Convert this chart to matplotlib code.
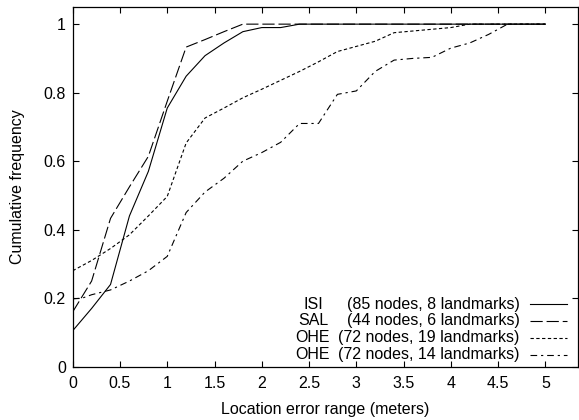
import matplotlib.pyplot as plt
from matplotlib.ticker import FormatStrFormatter

plt.rcParams["font.family"] = ["Liberation Sans", "DejaVu Sans"]
plt.rcParams["font.size"] = 11.5

# location error range (m) and cumulative frequency per deployment
isi_x = [0, 0.2, 0.4, 0.6, 0.8, 1.0, 1.2, 1.4, 1.6, 1.8, 2.0, 2.2, 2.4, 5.0]
isi_y = [0.105, 0.17, 0.24, 0.44, 0.57, 0.755, 0.848, 0.908, 0.945, 0.978, 0.99, 0.99, 1.0, 1.0]

sal_x = [0, 0.2, 0.4, 0.6, 0.8, 1.0, 1.2, 1.4, 1.6, 1.8, 5.0]
sal_y = [0.16, 0.25, 0.433, 0.525, 0.614, 0.775, 0.933, 0.955, 0.978, 1.0, 1.0]

ohe19_x = [0, 0.2, 0.4, 0.6, 0.8, 1.0, 1.2, 1.4, 1.6, 1.8, 2.0, 2.2, 2.4, 2.6, 2.8,
           3.0, 3.2, 3.4, 3.6, 3.8, 4.0, 4.2, 5.0]
ohe19_y = [0.28, 0.31, 0.345, 0.385, 0.44, 0.497, 0.653, 0.726, 0.755, 0.785, 0.81, 0.836,
           0.862, 0.89, 0.92, 0.935, 0.95, 0.975, 0.98, 0.985, 0.99, 1.0, 1.0]

ohe14_x = [0, 0.1, 0.2, 0.4, 0.6, 0.8, 1.0, 1.2, 1.4, 1.6, 1.8, 2.0, 2.2, 2.4, 2.6, 2.8,
           3.0, 3.2, 3.4, 3.6, 3.8, 4.0, 4.2, 4.4, 4.6, 5.0]
ohe14_y = [0.198, 0.2, 0.21, 0.224, 0.25, 0.28, 0.322, 0.45, 0.51, 0.55, 0.60, 0.625,
           0.655, 0.71, 0.71, 0.795, 0.805, 0.862, 0.895, 0.90, 0.903, 0.93, 0.945, 0.97,
           1.0, 1.0]

names = ["ISI", "SAL", "OHE", "OHE"]
details = ["(85 nodes, 8 landmarks)", "(44 nodes, 6 landmarks)",
           "(72 nodes, 19 landmarks)", "(72 nodes, 14 landmarks)"]

x_ticks = [0, 0.5, 1, 1.5, 2, 2.5, 3, 3.5, 4, 4.5, 5]
y_ticks = [0, 0.2, 0.4, 0.6, 0.8, 1]

styles = [
    dict(linestyle="-"),
    dict(dashes=(11, 3.5)),
    dict(dashes=(3, 2.2)),
    dict(dashes=(6, 3.5, 2, 3.5)),
]

fig = plt.figure(figsize=(5.79, 4.20), dpi=100)
ax = fig.add_axes([0.1256, 0.127, 0.8734, 0.8563])

series = [(isi_x, isi_y), (sal_x, sal_y), (ohe19_x, ohe19_y), (ohe14_x, ohe14_y)]
for (xs, ys), st in zip(series, styles):
    ax.plot(xs, ys, color="black", linewidth=0.8, **st)

ax.set_xlim(0, 5.35)
ax.set_ylim(0, 1.05)
ax.set_xticks(x_ticks)
ax.set_yticks(y_ticks)
ax.xaxis.set_major_formatter(FormatStrFormatter("%g"))
ax.yaxis.set_major_formatter(FormatStrFormatter("%g"))
ax.tick_params(direction="in", length=4, width=0.8, top=True, right=True,
               labelsize=11.5, pad=5)
ax.tick_params(axis="x", pad=7)
for sp in ax.spines.values():
    sp.set_linewidth(0.9)

ax.set_xlabel("Location error range (meters)", fontsize=11.5, labelpad=8)
ax.set_ylabel("Cumulative frequency", fontsize=11.5, labelpad=13)

# gnuplot-style key, bottom right
row_y = [0.174, 0.128, 0.081, 0.033]
for i, (nm, det, st) in enumerate(zip(names, details, styles)):
    y = row_y[i]
    ax.text(0.475, y, nm, transform=ax.transAxes, ha="center", va="center", fontsize=11.5)
    ax.text(0.884, y, det, transform=ax.transAxes, ha="right", va="center", fontsize=11.5)
    ax.plot([0.904, 0.977], [y, y], transform=ax.transAxes, color="black",
            linewidth=0.8, clip_on=False, **st)

fig.savefig("out.png", dpi=100)
